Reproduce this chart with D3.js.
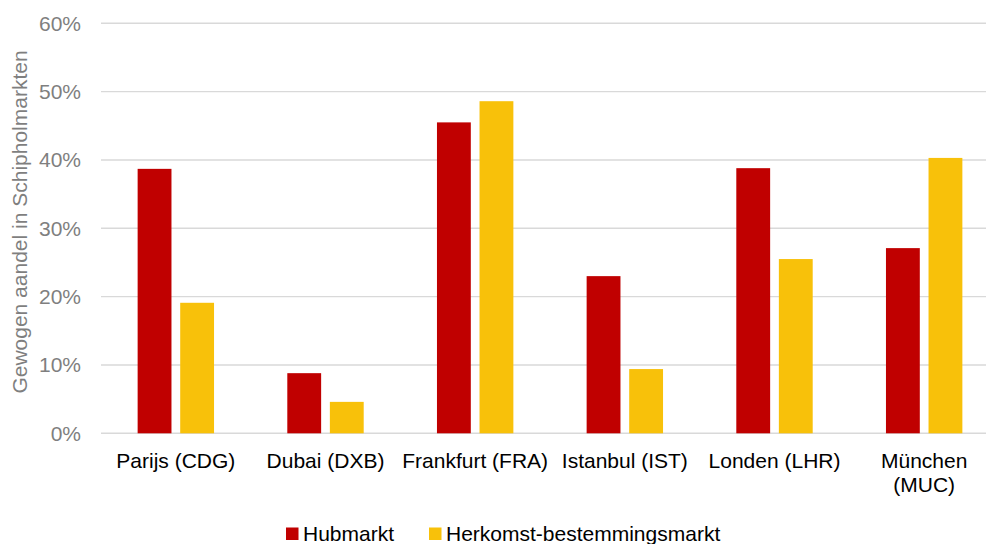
<!DOCTYPE html>
<html>
<head>
<meta charset="utf-8">
<script src="https://cdn.jsdelivr.net/npm/d3@7"></script>
<style>
  html, body { margin: 0; padding: 0; background: #fff; }
  svg { display: block; font-family: "Liberation Sans", Arial, sans-serif; }
</style>
</head>
<body>
<svg id="chart" width="986" height="544"></svg>
<script>
const categories = ["Parijs (CDG)", "Dubai (DXB)", "Frankfurt (FRA)", "Istanbul (IST)", "Londen (LHR)", "München (MUC)"];
const categoryLines = [["Parijs (CDG)"], ["Dubai (DXB)"], ["Frankfurt (FRA)"], ["Istanbul (IST)"], ["Londen (LHR)"], ["München", "(MUC)"]];
const seriesNames = ["Hubmarkt", "Herkomst-bestemmingsmarkt"];
const hubmarkt = [38.7, 8.8, 45.5, 23.0, 38.8, 27.1];
const herkomst = [19.1, 4.6, 48.6, 9.4, 25.5, 40.3];
const yTicks = [0, 10, 20, 30, 40, 50, 60];
const yTitle = "Gewogen aandel in Schipholmarkten";
const colors = ["#C00000", "#F8C10A"];

const svg = d3.select("#chart");
const plotLeft = 101, plotRight = 999, plotTop = 23.3, plotBottom = 433.3;

const x0 = d3.scaleBand().domain(categories).range([plotLeft, plotRight]).padding(0);
const x1 = d3.scaleBand().domain(seriesNames).range([-38.2, 38.2]).paddingInner(0.205);
const y = d3.scaleLinear().domain([0, 60]).range([plotBottom, plotTop]);

// gridlines
svg.append("g").selectAll("line").data(yTicks).join("line")
  .attr("x1", plotLeft).attr("x2", 986)
  .attr("y1", d => y(d)).attr("y2", d => y(d))
  .attr("stroke", "#D9D9D9").attr("stroke-width", 1.4);

// y tick labels
const yAxis = d3.axisLeft(y).tickValues(yTicks).tickFormat(d => d + "%").tickSize(0).tickPadding(0);
const gy = svg.append("g").attr("transform", "translate(81,0)").call(yAxis);
gy.select(".domain").remove();
gy.selectAll("text").attr("fill", "#7F7F7F").style("font-size", "21px")
  .style("font-family", "'Liberation Sans', Arial, sans-serif");

// y title
svg.append("text")
  .attr("transform", `translate(26.5,222) rotate(-90)`)
  .attr("text-anchor", "middle")
  .attr("fill", "#7F7F7F").style("font-size", "21px")
  .text(yTitle);

// bars
const data = categories.map((c, i) => ({ c, vals: [hubmarkt[i], herkomst[i]] }));
const groups = svg.append("g").selectAll("g").data(data).join("g")
  .attr("transform", d => `translate(${x0(d.c) + x0.bandwidth() / 2},0)`);
groups.selectAll("rect").data(d => d.vals.map((v, k) => ({ v, s: seriesNames[k], k })))
  .join("rect")
  .attr("x", d => x1(d.s))
  .attr("width", x1.bandwidth())
  .attr("y", d => y(d.v))
  .attr("height", d => y(0) - y(d.v))
  .attr("fill", d => colors[d.k]);

// category labels
const gx = svg.append("g");
categories.forEach((c, i) => {
  const t = gx.append("text")
    .attr("x", x0(c) + x0.bandwidth() / 2)
    .attr("y", 467.5)
    .attr("text-anchor", "middle")
    .attr("fill", "#000").style("font-size", "21px");
  categoryLines[i].forEach((ln, j) => {
    t.append("tspan").attr("x", x0(c) + x0.bandwidth() / 2).attr("dy", j === 0 ? 0 : 24.5).text(ln);
  });
});

// legend
const legendX = [286, 429];
const leg = svg.append("g");
seriesNames.forEach((s, k) => {
  leg.append("rect").attr("x", legendX[k]).attr("y", 527.5).attr("width", 12.5).attr("height", 12.5).attr("fill", colors[k]);
  leg.append("text").attr("x", legendX[k] + 17).attr("y", 540.5)
    .attr("fill", "#000").style("font-size", "21px").text(s);
});
</script>
</body>
</html>
